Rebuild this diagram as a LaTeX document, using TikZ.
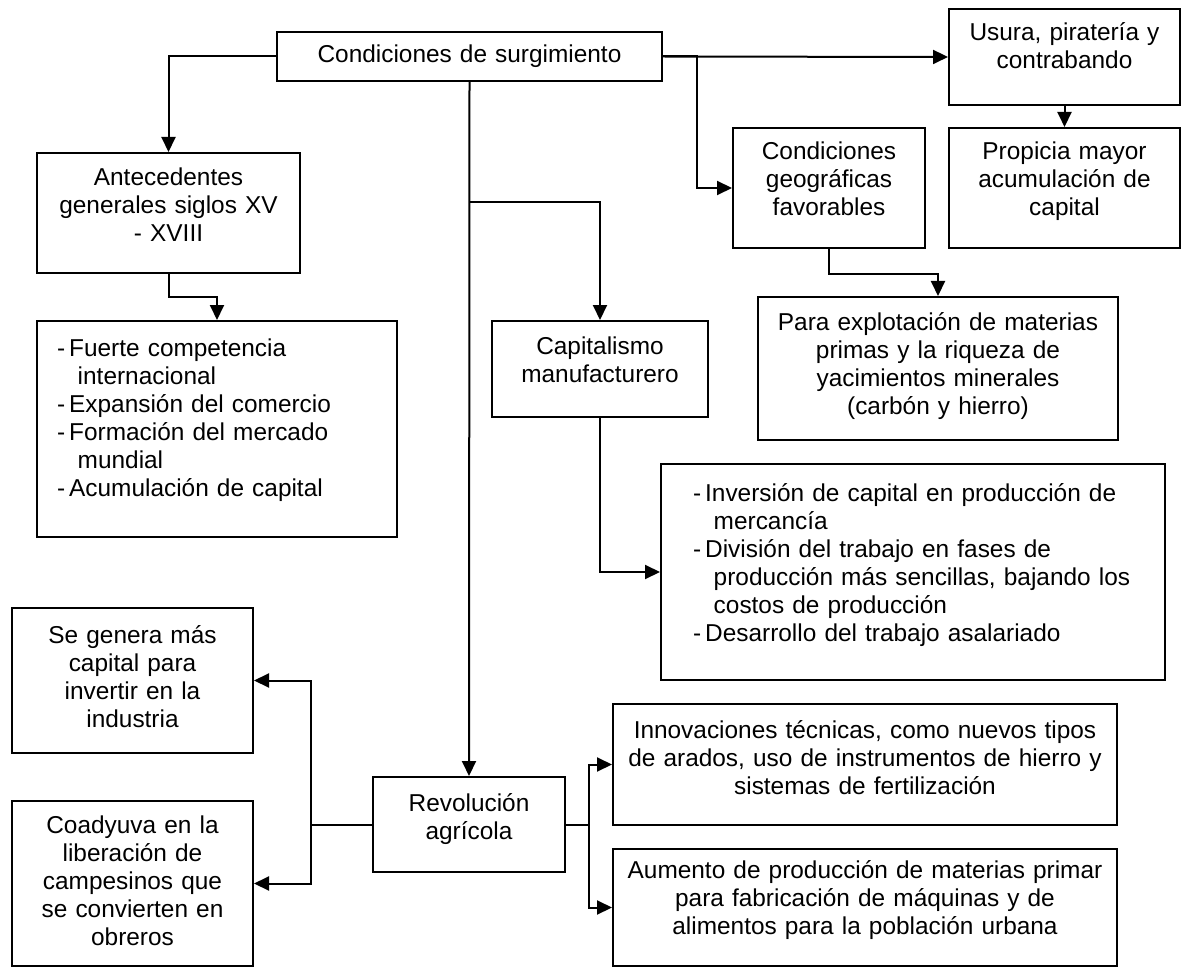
\documentclass[tikz,border=0pt]{standalone}
\usepackage{fontspec}
\setmainfont{Liberation Sans}
\usepackage{tikz}
\usetikzlibrary{arrows.meta,calc}
\newcommand{\itm}[1]{\par\hangindent=0.85em\hangafter=1\noindent\makebox[0.5em][l]{-}#1}
\newcommand{\bpad}[1]{\par\vspace{#1}}

\begin{document}
\begin{tikzpicture}[x=0.5pt,y=-0.5pt]

\tikzstyle{box}=[draw,line width=1pt,inner sep=2pt,align=center,font=\fontsize{12.2}{14}\selectfont]
\tikzstyle{listbox}=[box,align=left]
\tikzstyle{padb}=[execute at end node={\bpad{#1}}]
\tikzstyle{arr}=[line width=1pt,-{Triangle[length=7.5pt,width=7pt]}]
\tikzstyle{line}=[line width=1pt]

\useasboundingbox (0,0) rectangle (1183,968);

\node (cond) [box,text width=188.5pt,minimum height=24.5pt] at (469.5,56.5) {Condiciones de surgimiento};
\node (usura) [box,text width=111.5pt,minimum height=48pt,padb=11pt] at (1064.5,57) {Usura, piratería y\\contrabando};
\node (geo) [box,text width=92pt,minimum height=60pt,padb=9pt] at (829,188) {Condiciones\\geográficas\\favorables};
\node (propicia) [box,text width=111.5pt,minimum height=60pt,padb=7pt] at (1064.5,188) {Propicia mayor\\acumulación de\\capital};
\node (para) [box,text width=176pt,minimum height=71.5pt,padb=2pt] at (938,368.5) {Para explotación de materias\\primas y la riqueza de\\yacimientos minerales\\(carbón y hierro)};

\node (antec) [box,text width=127.5pt,minimum height=60pt,padb=8pt] at (168.5,213) {Antecedentes\\generales siglos XV\\- XVIII};
\node (fuerte) [listbox,inner xsep=10pt,text width=160pt,minimum height=108pt,padb=14pt] at (217,429) {%
\itm{Fuerte competencia\newline internacional}
\itm{Expansión del comercio}
\itm{Formación del mercado\newline mundial}
\itm{Acumulación de capital}};

\node (capit) [box,text width=104pt,minimum height=48pt,padb=9pt] at (600,369) {Capitalismo\\manufacturero};
\node (inversion) [listbox,inner xsep=16pt,text width=220pt,minimum height=108pt,padb=12pt] at (913,572) {%
\itm{Inversión de capital en producción de\newline mercancía}
\itm{División del trabajo en fases de\newline producción más sencillas, bajando los\newline costos de producción}
\itm{Desarrollo del trabajo asalariado}};

\node (segenera) [box,text width=116.5pt,minimum height=72.5pt,padb=4pt] at (132.5,680.5) {Se genera más\\capital para\\invertir en la\\industria};
\node (coady) [box,text width=116.5pt,minimum height=82.5pt,padb=3pt] at (132.5,883.5) {Coadyuva en la\\liberación de\\campesinos que\\se convierten en\\obreros};
\node (revol) [box,text width=92pt,minimum height=47.5pt,padb=5pt] at (469,824.5) {Revolución\\agrícola};
\node (innov) [box,text width=248pt,minimum height=60.5pt,padb=7pt] at (865,764.5) {Innovaciones técnicas, como nuevos tipos\\de arados, uso de instrumentos de hierro y\\sistemas de fertilización};
\node (aumento) [box,text width=248pt,minimum height=58.5pt,padb=7pt] at (865,907.5) {Aumento de producción de materias primar\\para fabricación de máquinas y de\\alimentos para la población urbana};

% upper branches
\draw [arr] (cond.west) -| (antec.north);
\draw [arr] (antec.south) -- ++(0,23) -| (fuerte.north);
\draw [arr] (cond.east) -- (usura.west);
\draw [arr] (cond.east) -- ++(34,0) |- (geo.west);
\draw [arr] (usura.south) -- (propicia.north);
\draw [arr] (geo.south) -- ++(0,25) -| (para.north);

% central trunk
\draw [arr] (cond.south) -- (revol.north);
\draw [arr] (cond.south) ++(0,120) -| (capit.north);
\draw [arr] (capit.south) |- (inversion.west);

% revolucion agricola
\draw [line] (revol.west) -- ++(-61,0) coordinate (rl);
\draw [arr] (rl) |- (segenera.east);
\draw [arr] (rl) |- (coady.east);
\draw [line] (revol.east) -- ++(23,0) coordinate (rr);
\draw [arr] (rr) |- (innov.west);
\draw [arr] (rr) |- (aumento.west);

\end{tikzpicture}
\end{document}
